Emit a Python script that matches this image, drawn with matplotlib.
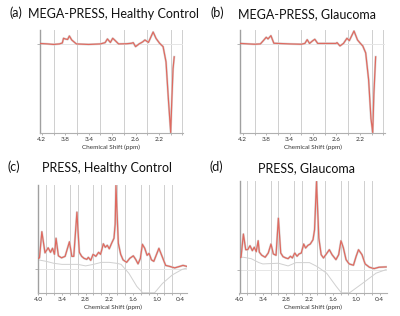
import matplotlib
matplotlib.use("Agg")
import matplotlib.pyplot as plt
import numpy as np

W, H = 400, 316
plt.rcParams['font.family'] = ['Lato', 'DejaVu Sans']

# ---- data (ppm, signal height relative to baseline) ----
ppm_a = [4.24, 4.10, 4.00, 3.90, 3.85, 3.83, 3.80, 3.76, 3.73, 3.69, 3.61, 3.40,
         3.20, 3.12, 3.08, 3.03, 2.99, 2.95, 2.89, 2.75, 2.67, 2.64, 2.60, 2.54,
         2.48, 2.44, 2.38, 2.30, 2.25, 2.19, 2.13, 2.08, 2.04, 2.00, 1.98, 1.96, 1.94]
val_a = [0.5, 0, -0.5, 0, 1, 5.7, 5, 4.5, 8, 4, 0, -0.5,
         0, 1.3, 5, 1.5, 5.7, 3.5, 0, 0.2, 0.7, 1.3, -2.7, 0,
         2, 4, 1.5, 12, 5.5, 0.7, -2.7, -18, -55, -89, -55, -25, -13]

ppm_b = [4.24, 4.10, 4.00, 3.90, 3.85, 3.80, 3.77, 3.72, 3.67, 3.40, 3.20, 3.14,
         3.10, 3.06, 3.01, 2.97, 2.92, 2.75, 2.61, 2.59, 2.54, 2.48, 2.42, 2.38,
         2.30, 2.24, 2.19, 2.15, 2.10, 2.05, 2.01, 1.98, 1.96, 1.93]
val_b = [0.5, 0, -0.3, 0, 3.3, 6.7, 5, 8.3, 0.7, 0, -0.3, 0.5,
         4.3, 0.5, 3, 4.7, 0.5, 0.5, 0.5, 1.3, -2, 0.5, 5.7, 3.3,
         13, 4, 0.5, -2, -9, -36, -75, -89, -50, -13]

ppm_c = [4.0, 3.97, 3.91, 3.83, 3.75, 3.69, 3.64, 3.59, 3.55, 3.49, 3.41, 3.32,
         3.21, 3.15, 3.10, 3.02, 2.96, 2.90, 2.84, 2.77, 2.73, 2.67, 2.61, 2.54,
         2.47, 2.42, 2.35, 2.30, 2.25, 2.20, 2.14, 2.08, 2.05, 2.03, 1.97, 1.91,
         1.85, 1.76, 1.68, 1.59, 1.53, 1.47, 1.41, 1.36, 1.30, 1.24, 1.19, 1.13,
         1.07, 0.94, 0.84, 0.77, 0.67, 0.54, 0.41, 0.33, 0.23]
val_c = [11, 11.5, 37.5, 16.5, 21.5, 17, 21, 15, 31, 13.5, 11.5, 13,
         27.5, 13, 13, 57, 17, 13, 11, 10, 12, 9, 15, 13,
         17, 15, 25.5, 22, 24, 20.5, 26, 31, 45, 83.5, 26, 15,
         9.5, 7, 11, 13.5, 10, 5.5, 11, 25, 21, 14, 16, 9.5,
         8, 21, 11, 4, 3, 1.5, 3, 4, 3]
base_ppm_c = [4.0, 3.8, 3.6, 3.4, 3.0, 2.8, 2.6, 2.4, 2.2, 2.0, 1.9, 1.7, 1.5,
              1.35, 1.05, 0.85, 0.6, 0.35, 0.22]
base_c = [9.5, 8, 6, 5, 5, 3.5, 5, 7, 7, 6, 5, -4, -17,
          -23.3, -23.3, -14, -5.5, 0, 1.5]

ppm_d = [4.0, 3.96, 3.90, 3.84, 3.79, 3.73, 3.67, 3.62, 3.57, 3.52, 3.49, 3.43,
         3.34, 3.26, 3.19, 3.13, 3.06, 3.00, 2.94, 2.88, 2.81, 2.75, 2.69, 2.64,
         2.58, 2.52, 2.47, 2.41, 2.35, 2.30, 2.24, 2.18, 2.11, 2.07, 2.02, 1.96,
         1.90, 1.84, 1.78, 1.69, 1.62, 1.52, 1.45, 1.39, 1.33, 1.26, 1.18, 1.07,
         1.00, 0.94, 0.85, 0.77, 0.66, 0.54, 0.41, 0.23]
val_d = [12, 12.4, 35.7, 20, 20, 24, 19, 22.5, 18, 29, 17.5, 14.5,
         12.4, 16.7, 25.7, 15.7, 14.4, 51.7, 16.7, 13, 11.7, 11, 13.4, 11.7,
         16.7, 13.4, 15.7, 16.7, 25.7, 21.7, 24.4, 25.7, 30, 40, 88.4, 31.7,
         15, 11.7, 15, 20, 15, 10, 15, 29, 22, 10, 5.7, 4.4,
         13.4, 20, 15, 5.7, 2.4, 1, 2.4, 2.7]
base_ppm_d = [4.0, 3.9, 3.7, 3.5, 3.4, 3.0, 2.75, 2.55, 2.2, 2.0, 1.76, 1.51,
              1.38, 1.17, 0.83, 0.49, 0.23]
base_d = [12.4, 12.4, 11, 7, 5.7, 6.4, 3.7, 7, 7, 3, -3.6, -17,
          -23.3, -23.3, -13.6, -3.6, 0]

ticks_top = [4.2, 3.8, 3.4, 3.0, 2.6, 2.2]
ticks_bot = [4.0, 3.4, 2.8, 2.2, 1.6, 1.0, 0.4]

red = '#df6a60'
fitgray = '#d8d8d8'


def rect(x0, y0, x1, y1):
    return [x0 / W, 1 - y1 / H, (x1 - x0) / W, (y1 - y0) / H]


def style(ax, xlim, ylim, ticks, step):
    for s in ['top', 'right']:
        ax.spines[s].set_visible(False)
    ax.spines['left'].set_color('#a0a0a0')
    ax.spines['left'].set_linewidth(1.0)
    ax.spines['bottom'].set_color('#b0b0b0')
    ax.spines['bottom'].set_linewidth(0.8)
    ax.set_xticks(ticks)
    ax.set_xticklabels(['%.1f' % t for t in ticks])
    minor = np.arange(0.2, 4.41, step)
    ax.set_xticks(minor, minor=True)
    ax.grid(True, which='minor', axis='x', color='#cfcfcf', lw=0.7)
    ax.set_axisbelow(True)
    ax.tick_params(axis='x', which='both', length=1.5, width=0.5,
                   color='#999999', labelsize=4.6, pad=1.5, labelcolor='#333333')
    ax.set_yticks([0])
    ax.set_yticklabels([''])
    ax.tick_params(axis='y', length=2, width=0.5, color='#999999')
    ax.axhline(0, color='#e6e6e6', lw=0.7, zorder=1)
    ax.set_xlabel('Chemical Shift (ppm)', fontsize=4.6, labelpad=1.5,
                  color='#333333')
    ax.set_xlim(*xlim)
    ax.set_ylim(*ylim)


fig = plt.figure(figsize=(W / 100, H / 100), dpi=100)

ax = fig.add_axes(rect(39.5, 30, 183, 133))
ax.plot(ppm_a, val_a, color=fitgray, lw=1.6, zorder=2)
ax.plot(ppm_a, val_a, color=red, lw=0.9, zorder=3)
style(ax, (4.24, 1.79), (-89.5, 14), ticks_top, 0.2)

ax = fig.add_axes(rect(240.5, 30, 385, 133))
ax.plot(ppm_b, val_b, color=fitgray, lw=1.6, zorder=2)
ax.plot(ppm_b, val_b, color=red, lw=0.9, zorder=3)
style(ax, (4.24, 1.77), (-89.5, 14), ticks_top, 0.2)

ax = fig.add_axes(rect(38.3, 185, 187.3, 293))
ax.plot(base_ppm_c, base_c, color='#d0d0d0', lw=0.7, zorder=2)
ax.plot(ppm_c, val_c, color=fitgray, lw=1.6, zorder=2)
ax.plot(ppm_c, val_c, color=red, lw=0.9, zorder=3)
style(ax, (4.0, 0.22), (-23.5, 84), ticks_bot, 0.2)

ax = fig.add_axes(rect(239.5, 181, 386.5, 293))
ax.plot(base_ppm_d, base_d, color='#d0d0d0', lw=0.7, zorder=2)
ax.plot(ppm_d, val_d, color=fitgray, lw=1.6, zorder=2)
ax.plot(ppm_d, val_d, color=red, lw=0.9, zorder=3)
style(ax, (4.0, 0.22), (-23.5, 89), ticks_bot, 0.2)

# panel labels and titles
tkw = dict(fontsize=9, va='center', color='#111111')
fig.text(15.5 / W, 1 - 12.5 / H, '(a)', ha='center', **tkw)
fig.text(113.5 / W, 1 - 14 / H, 'MEGA-PRESS, Healthy Control', ha='center', **tkw)
fig.text(217 / W, 1 - 12.5 / H, '(b)', ha='center', **tkw)
fig.text(307 / W, 1 - 14 / H, 'MEGA-PRESS, Glaucoma', ha='center', **tkw)
fig.text(14 / W, 1 - 167 / H, '(c)', ha='center', **tkw)
fig.text(107.5 / W, 1 - 168.5 / H, 'PRESS, Healthy Control', ha='center', **tkw)
fig.text(216.5 / W, 1 - 167 / H, '(d)', ha='center', **tkw)
fig.text(306.5 / W, 1 - 168.5 / H, 'PRESS, Glaucoma', ha='center', **tkw)

fig.savefig('out.png', dpi=100)
